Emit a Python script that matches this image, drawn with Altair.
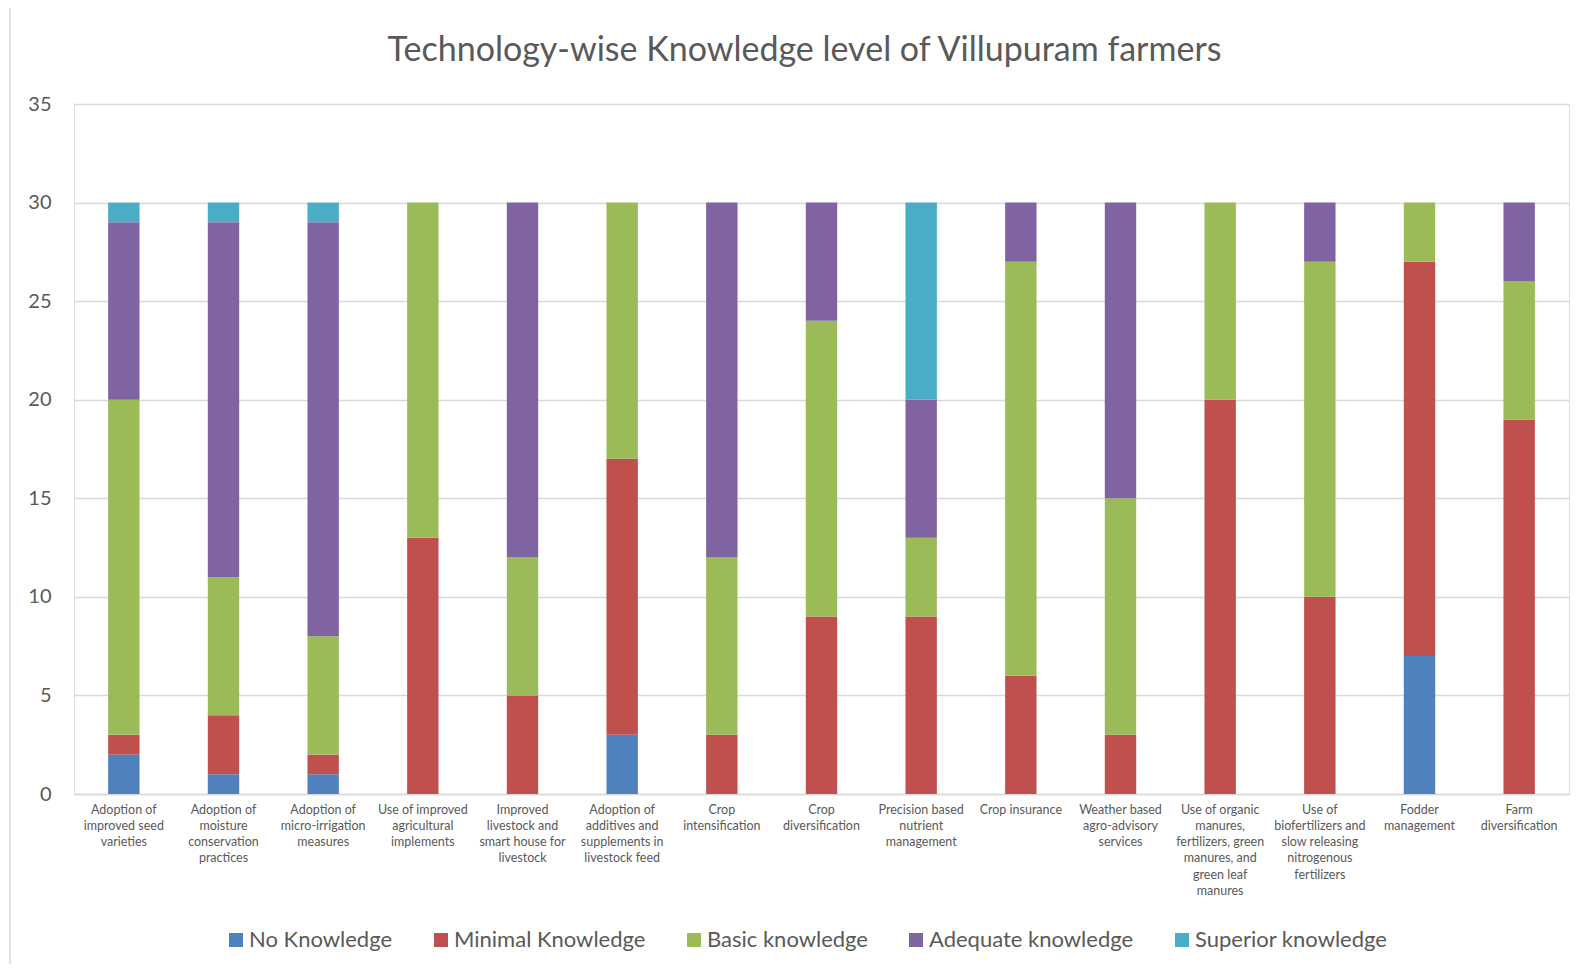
import altair as alt
import pandas as pd

categories = [
    "Adoption of\nimproved seed\nvarieties",
    "Adoption of\nmoisture\nconservation\npractices",
    "Adoption of\nmicro-irrigation\nmeasures",
    "Use of improved\nagricultural\nimplements",
    "Improved\nlivestock and\nsmart house for\nlivestock",
    "Adoption of\nadditives and\nsupplements in\nlivestock feed",
    "Crop\nintensification",
    "Crop\ndiversification",
    "Precision based\nnutrient\nmanagement",
    "Crop insurance",
    "Weather based\nagro-advisory\nservices",
    "Use of organic\nmanures,\nfertilizers, green\nmanures, and\ngreen leaf\nmanures",
    "Use of\nbiofertilizers and\nslow releasing\nnitrogenous\nfertilizers",
    "Fodder\nmanagement",
    "Farm\ndiversification",
]

series_names = ["No Knowledge", "Minimal Knowledge", "Basic knowledge",
                "Adequate knowledge", "Superior knowledge"]
no_knowledge = [2, 1, 1, 0, 0, 3, 0, 0, 0, 0, 0, 0, 0, 7, 0]
minimal_knowledge = [1, 3, 1, 13, 5, 14, 3, 9, 9, 6, 3, 20, 10, 20, 19]
basic_knowledge = [17, 7, 6, 17, 7, 13, 9, 15, 4, 21, 12, 10, 17, 3, 7]
adequate_knowledge = [9, 18, 21, 0, 18, 0, 18, 6, 7, 3, 15, 0, 3, 0, 4]
superior_knowledge = [1, 1, 1, 0, 0, 0, 0, 0, 10, 0, 0, 0, 0, 0, 0]
colors = ["#4F81BD", "#C0504D", "#9BBB59", "#8064A2", "#4BACC6"]

all_series = [no_knowledge, minimal_knowledge, basic_knowledge,
              adequate_knowledge, superior_knowledge]
rows = []
for si, (name, vals) in enumerate(zip(series_names, all_series)):
    for ci, (cat, v) in enumerate(zip(categories, vals)):
        rows.append({"category": cat, "series": name, "order": si, "value": v})
df = pd.DataFrame(rows)

FONT = "Lato"
GREY = "#595959"

bars = alt.Chart(df).mark_bar().encode(
    x=alt.X("category:N", sort=categories, title=None,
            scale=alt.Scale(paddingInner=0.685, paddingOuter=0.3425),
            axis=alt.Axis(labelAngle=0, labelExpr="split(datum.label, '\\n')",
                          labelFontSize=12.5, labelLineHeight=16.3, labelColor=GREY,
                          labelFont=FONT, labelPadding=9, ticks=False, grid=False,
                          domainColor="#d9d9d9", domainWidth=1.5, labelLimit=200)),
    y=alt.Y("value:Q", stack="zero", title=None,
            scale=alt.Scale(domain=[0, 35], nice=False),
            axis=alt.Axis(values=[0, 5, 10, 15, 20, 25, 30, 35], ticks=False, domain=False,
                          gridColor="#d9d9d9", gridWidth=1.5, labelFontSize=20,
                          labelColor=GREY, labelFont=FONT, labelPadding=23)),
    color=alt.Color("series:N", sort=series_names,
                    scale=alt.Scale(domain=series_names, range=colors),
                    legend=alt.Legend(title=None, orient="none", direction="horizontal",
                                      columns=5, legendX=151, legendY=825,
                                      symbolType="square", symbolSize=196,
                                      symbolStrokeWidth=0, labelFontSize=22,
                                      labelFont=FONT, labelColor=GREY, labelOffset=2,
                                      columnPadding=37, labelLimit=400)),
    order=alt.Order("order:Q", sort="ascending"),
)

border = alt.Chart(pd.DataFrame({"a": [0]})).mark_rect(
    fill="transparent", stroke="#d9d9d9", strokeWidth=1.5, clip=False
).encode(x=alt.value(-64), x2=alt.value(1600), y=alt.value(-98), y2=alt.value(1000))

chart = alt.layer(border, bars).properties(
    width=1495, height=690,
    title=alt.TitleParams("Technology-wise Knowledge level of Villupuram farmers",
                          fontSize=34, font=FONT, fontWeight="normal", color=GREY,
                          anchor="middle", dx=-17, baseline="alphabetic", offset=-90),
    padding={"left": 66, "top": 96, "right": 11, "bottom": 170},
    autosize="none",
).configure_view(strokeWidth=0, stroke="transparent").configure(background="white")

chart.save("out.html", embed_options={"renderer": "svg", "actions": False})
